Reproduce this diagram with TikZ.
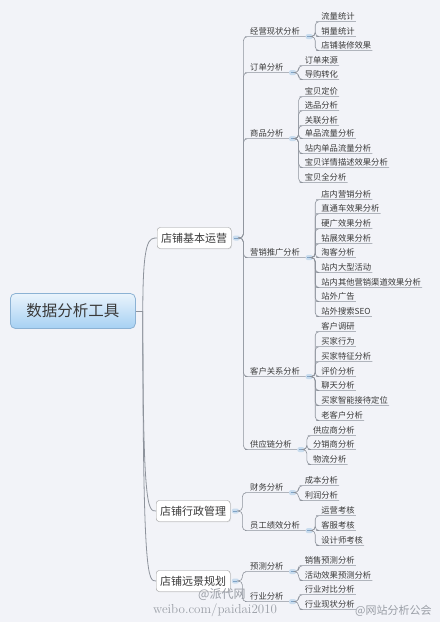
\documentclass[tikz,border=0pt]{standalone}
\usepackage{fontspec}
\newfontfamily\cjk{Noto Sans CJK SC}
\usetikzlibrary{shadows}
\definecolor{bg}{HTML}{F2F3F8}
\definecolor{ln}{HTML}{8E939C}
\definecolor{txt}{HTML}{3A3A3A}
\definecolor{boxd}{HTML}{9A9A9A}
\definecolor{rootd}{HTML}{8CB2D4}
\definecolor{roott}{HTML}{EAF4FC}
\definecolor{rootb}{HTML}{A6D0F3}
\definecolor{mkf}{HTML}{C9DCEE}
\definecolor{mkl}{HTML}{7FA3C6}
\definecolor{wm}{HTML}{9A9EA6}
\tikzset{
  conn/.style={draw=ln, line width=0.6pt, rounded corners=4pt},
  leaf/.style={font=\cjk\fontsize{8.3}{9}\selectfont, text=txt, inner xsep=1pt, inner ysep=0pt,
               text height=6.8pt, text depth=2pt, anchor=west},
  lvone/.style={draw=boxd, fill=white, rounded corners=3pt, font=\cjk\fontsize{11}{13}\selectfont,
               text=txt, minimum height=21pt, inner xsep=4pt, anchor=west,
               drop shadow={opacity=0.12, shadow xshift=0.8pt, shadow yshift=-0.8pt}},
  rootbox/.style={draw=rootd, line width=0.8pt, top color=roott, bottom color=rootb, rounded corners=5pt,
               font=\cjk\fontsize{15.5}{18}\selectfont, text=txt, minimum width=125pt, minimum height=35pt,
               anchor=west},
  marker/.style={draw=none, fill=mkf, rounded corners=2pt, minimum width=7pt, minimum height=5pt, inner sep=0pt,
               path picture={\draw[mkl, line width=0.6pt] ([xshift=-2pt]path picture bounding box.center) -- ([xshift=2pt]path picture bounding box.center);}},
  wmark/.style={text=wm, inner sep=0pt}
}
% children of a level-2 topic #1 (with marker #1m)
\newcommand\kids[2]{%
  \coordinate (#1v) at ([xshift=6pt]#1m.center);
  \path (#1v) ++(5pt,0) coordinate (#1x);
  \foreach \yy/\lbl [count=\i] in {#2}{%
    \node[leaf] (#1\i) at (#1x |- 0,\yy) {\lbl};
    \draw[conn] (#1m.east) -- (#1m.east -| #1v) |- (#1\i.south west) -- (#1\i.south east);
  }}
% a level-2 topic: #1 name, #2 parent level-1 name, #3 y, #4 text
\newcommand\topic[4]{%
  \node[leaf] (#1) at (249,#3) {#4};
  \node[marker] (#1m) at ([xshift=8pt]#1.south east) {};
  \draw[conn] (#2m.east) -- (#2m.east -| #2v) |- (#1.south west) -- (#1m.west);
}
\begin{document}
\begin{tikzpicture}[x=1pt,y=-1pt]
\useasboundingbox (0,0) rectangle (440,622);
\fill[bg] (0,0) rectangle (440,622);

% root
\node[rootbox] (root) at (10,311) {数据分析工具};
\coordinate (trunk) at ([xshift=7pt]root.east);
\draw[draw=ln, line width=0.9pt] (root.east) -- (trunk);

% level 1
\node[lvone] (P) at (157,238) {店铺基本运营};
\node[lvone] (Q) at (156,511) {店铺行政管理};
\node[lvone] (R) at (156,581) {店铺远景规划};
\foreach \n in {P,Q,R}{
  \draw[draw=ln, line width=0.8pt] (trunk) .. controls (trunk |- \n.west) and ([xshift=-8pt]\n.west) .. (\n.west);
  \node[marker] (\n m) at ([xshift=5pt]\n.east) {};
  \coordinate (\n v) at ([xshift=7pt]\n m.center);
}

% level 2 under P
\topic{A}{P}{32}{经营现状分析}
\topic{B}{P}{68}{订单分析}
\topic{C}{P}{134}{商品分析}
\topic{D}{P}{253}{营销推广分析}
\topic{E}{P}{372}{客户关系分析}
\topic{F}{P}{445}{供应链分析}
% level 2 under Q
\topic{G}{Q}{488}{财务分析}
\topic{H}{Q}{526}{员工绩效分析}
% level 2 under R
\topic{I}{R}{567}{预测分析}
\topic{J}{R}{597}{行业分析}

% level 3
\kids{A}{17/流量统计, 32/销量统计, 46/店铺装修效果}
\kids{B}{61/订单来源, 75/导购转化}
\kids{C}{92/宝贝定价, 106/选品分析, 121/关联分析, 134/单品流量分析, 149/站内单品流量分析, 163/宝贝详情描述效果分析, 178/宝贝全分析}
\kids{D}{195/店内营销分析, 209/直通车效果分析, 224/硬广效果分析, 239/钻展效果分析, 253/淘客分析, 268/站内大型活动, 283/站内其他营销渠道效果分析, 297/站外广告, 312/站外搜索SEO}
\kids{E}{327/客户调研, 342/买家行为, 357/买家特征分析, 372/评价分析, 386/聊天分析, 401/买家智能接待定位, 416/老客户分析}
\kids{F}{431/供应商分析, 445/分销商分析, 460/物流分析}
\kids{G}{481/成本分析, 496/利润分析}
\kids{H}{511/运营考核, 526/客服考核, 541/设计师考核}
\kids{I}{561/销售预测分析, 576/活动效果预测分析}
\kids{J}{590/行业对比分析, 605/行业现状分析}

% watermarks
\node[wmark, font=\cjk\fontsize{12}{13}\selectfont, anchor=west] (wm1) at (198,595) {@派代网};
\node[wmark, font=\fontsize{13}{14}\selectfont, anchor=west] (wm2) at (153,610) {weibo.com/paidai2010};
\node[wmark, font=\cjk\fontsize{11}{12}\selectfont, anchor=west] (wm3) at (355,611) {@网站分析公会};
\end{tikzpicture}
\end{document}
